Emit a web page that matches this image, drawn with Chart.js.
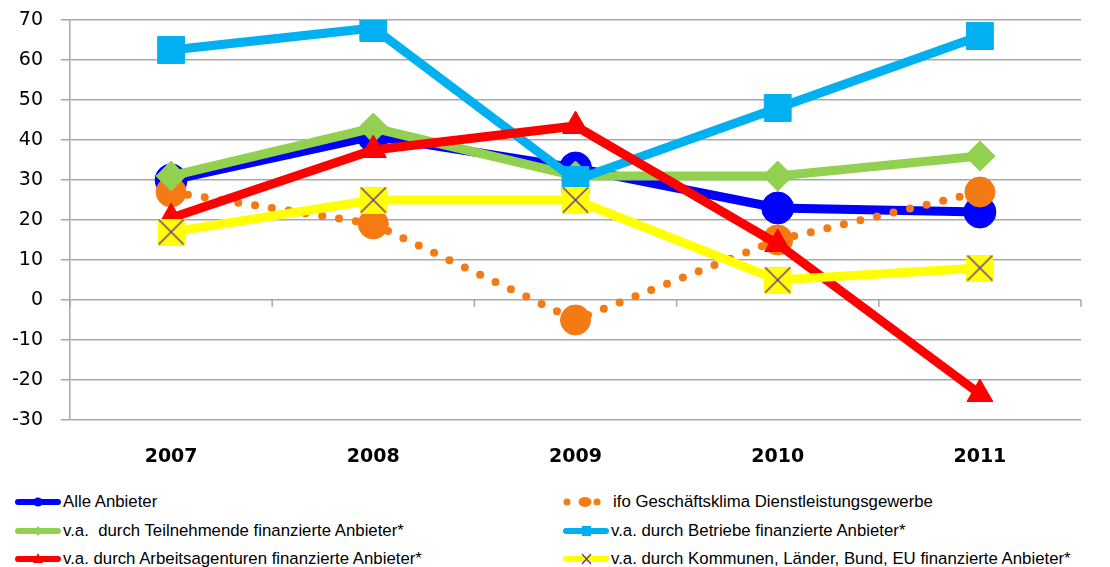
<!DOCTYPE html>
<html>
<head>
<meta charset="utf-8">
<script src="https://cdn.jsdelivr.net/npm/chart.js@4.4.1/dist/chart.umd.min.js"></script>
<style>
  html, body { margin: 0; padding: 0; background: #fff; }
  #wrap { position: relative; width: 1110px; height: 567px; }
  #box { position: absolute; left: 0; top: 0; width: 1110px; height: 480px; }
  .leg { position: absolute; height: 20px; display: flex; align-items: center;
         font-family: "Liberation Sans", Arial, sans-serif; font-size: 16.8px; color: #000; white-space: pre; }
  .leg canvas { display: block; margin-right: 1px; }
</style>
</head>
<body>
<div id="wrap">
  <div id="box"><canvas id="canvas"></canvas></div>
</div>
<script>
var years = ["2007", "2008", "2009", "2010", "2011"];
var alleAnbieter = [30, 41, 33, 23, 22];
var ifoKlima = [27, 19, -5, 15, 27];
var teilnehmende = [31, 43, 31, 31, 36];
var betriebe = [62.5, 68, 30, 48, 66];
var arbeitsagenturen = [20.5, 37.5, 43.5, 14, -23.5];
var kommunen = [17, 25, 25, 5, 8];
var yMin = -30, yMax = 70, yStep = 10;

// yellow square with purple X, used as point image
function crossBox(size) {
  var c = document.createElement("canvas");
  c.width = size; c.height = size;
  var g = c.getContext("2d");
  g.fillStyle = "#ffff00";
  g.fillRect(0, 0, size, size);
  g.strokeStyle = "#7030a0";
  g.lineWidth = 1.5;
  g.beginPath();
  g.moveTo(1, 1); g.lineTo(size - 1, size - 1);
  g.moveTo(size - 1, 1); g.lineTo(1, size - 1);
  g.stroke();
  return c;
}

var datasets = [
  { label: "Alle Anbieter", data: alleAnbieter, borderColor: "#0000ff", backgroundColor: "#0000ff",
    borderWidth: 9, pointStyle: "circle", pointRadius: 16, order: 5, legendMark: "circle" },
  { label: "ifo Geschäftsklima Dienstleistungsgewerbe", data: ifoKlima, borderColor: "#f47a14", backgroundColor: "#f47a14",
    borderWidth: 8, borderDash: [0, 17], borderCapStyle: "round", pointStyle: "circle", pointRadius: 15, order: 4, legendMark: "dots" },
  { label: "v.a.  durch Teilnehmende finanzierte Anbieter*", data: teilnehmende, borderColor: "#92d050", backgroundColor: "#92d050",
    borderWidth: 9, pointStyle: "rectRot", pointRadius: 15, order: 3, legendMark: "diamond" },
  { label: "v.a. durch Betriebe finanzierte Anbieter*", data: betriebe, borderColor: "#00b0f0", backgroundColor: "#00b0f0",
    borderWidth: 9, pointStyle: "rect", pointRadius: 19, order: 2, legendMark: "square" },
  { label: "v.a. durch Arbeitsagenturen finanzierte Anbieter*", data: arbeitsagenturen, borderColor: "#ff0000", backgroundColor: "#ff0000",
    borderWidth: 9, pointStyle: "triangle", pointRadius: 15, order: 1, legendMark: "triangle" },
  { label: "v.a. durch Kommunen, Länder, Bund, EU finanzierte Anbieter*", data: kommunen, borderColor: "#ffff00", backgroundColor: "#ffff00",
    borderWidth: 9, pointStyle: crossBox(27), pointRadius: 14, order: 0, legendMark: "cross" }
];
datasets.forEach(function (d) {
  d.pointBackgroundColor = d.backgroundColor;
  d.pointBorderColor = d.borderColor;
  d.pointBorderWidth = 1;
  d.pointHoverRadius = d.pointRadius;
  d.tension = 0;
});

// little tick marks on the zero line between the categories
var zeroTicks = {
  id: "zeroTicks",
  beforeDatasetsDraw: function (chart) {
    var x = chart.scales.x, y = chart.scales.y, ctx = chart.ctx;
    var y0 = y.getPixelForValue(0);
    ctx.save();
    ctx.strokeStyle = "#a8a8a8";
    ctx.lineWidth = 1.5;
    ctx.beginPath();
    for (var i = 0; i <= years.length; i++) {
      var px = x.getPixelForValue(i - 0.5);
      ctx.moveTo(px, y0);
      ctx.lineTo(px, y0 + 7);
    }
    ctx.stroke();
    ctx.restore();
  }
};

Chart.defaults.font.family = "'DejaVu Sans', Verdana, sans-serif";
Chart.defaults.color = "#000";

var myChart = null;
window.onload = function () {
  var ctx = document.getElementById("canvas").getContext("2d");
  myChart = new Chart(ctx, {
    type: "line",
    data: { labels: years, datasets: datasets },
    options: {
      responsive: true,
      maintainAspectRatio: false,
      animation: false,
      layout: { padding: { left: 13, right: 29, top: 20, bottom: 10 } },
      plugins: { legend: { display: false }, tooltip: { enabled: false } },
      scales: {
        x: {
          offset: true,
          grid: { display: false, drawTicks: false },
          border: { display: false },
          ticks: { font: { size: 19, weight: "bold" }, padding: 26 },
          afterFit: function (s) { s.height = 50; }
        },
        y: {
          min: yMin, max: yMax,
          ticks: { stepSize: yStep, font: { size: 19 }, padding: 18 },
          grid: { color: "#a8a8a8", lineWidth: 1.5, tickLength: 9 },
          border: { color: "#a8a8a8", width: 1.5 },
          afterFit: function (s) { s.width = 57; s.paddingTop = 0; s.paddingBottom = 0; }
        }
      }
    },
    plugins: [zeroTicks]
  });
  buildLegend();
};

function drawMark(g, kind, color) {
  g.fillStyle = color;
  g.strokeStyle = color;
  if (kind === "dots") {
    g.beginPath(); g.arc(4, 7, 3.5, 0, Math.PI * 2); g.fill();
    g.beginPath(); g.ellipse(22, 7, 6.5, 5, 0, 0, Math.PI * 2); g.fill();
    g.beginPath(); g.arc(34, 7, 3.5, 0, Math.PI * 2); g.fill();
    return;
  }
  g.lineWidth = 6;
  g.lineCap = "round";
  g.beginPath(); g.moveTo(3, 7); g.lineTo(43, 7); g.stroke();
  g.beginPath();
  if (kind === "circle") g.arc(23, 7, 4.5, 0, Math.PI * 2);
  if (kind === "diamond") { g.moveTo(23, 2); g.lineTo(27, 7); g.lineTo(23, 12); g.lineTo(19, 7); }
  if (kind === "square") g.rect(19, 2, 9, 10);
  if (kind === "triangle") { g.moveTo(23, 1); g.lineTo(28, 11); g.lineTo(18, 11); }
  g.fill();
  if (kind === "cross") {
    g.strokeStyle = "#7030a0"; g.lineWidth = 1.3; g.lineCap = "butt";
    g.beginPath(); g.moveTo(19, 2); g.lineTo(28, 12); g.moveTo(28, 2); g.lineTo(19, 12); g.stroke();
  }
}

function buildLegend() {
  var wrap = document.getElementById("wrap");
  var cols = [15, 563];
  var rows = [492, 521, 549];
  datasets.forEach(function (d, i) {
    var item = document.createElement("div");
    item.className = "leg";
    item.style.left = cols[i % 2] + "px";
    item.style.top = rows[Math.floor(i / 2)] + "px";
    var c = document.createElement("canvas");
    c.width = 47; c.height = 14;
    drawMark(c.getContext("2d"), d.legendMark, d.borderColor);
    item.appendChild(c);
    var t = document.createElement("span");
    t.textContent = d.label;
    if (d.legendMark === "dots") t.style.marginLeft = "2px";
    item.appendChild(t);
    wrap.appendChild(item);
  });
}
</script>
</body>
</html>
